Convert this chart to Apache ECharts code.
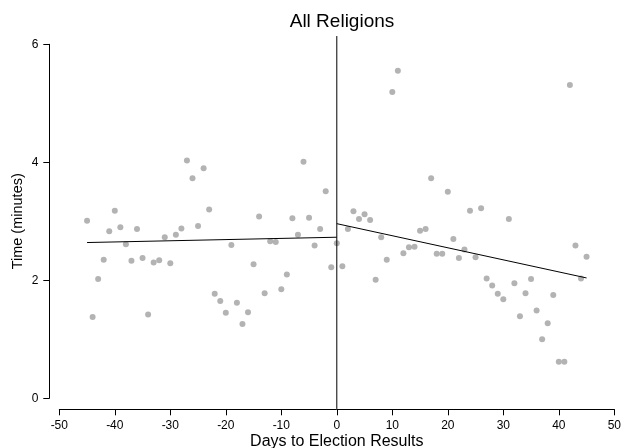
<!DOCTYPE html>
<html>
<head>
<meta charset="utf-8">
<script src="https://cdn.jsdelivr.net/npm/echarts@6/dist/echarts.min.js"></script>
<style>
html, body { margin: 0; padding: 0; background: #fff; }
#main { width: 622px; height: 448px; }
</style>
</head>
<body>
<div id="main"></div>
<script>
// days to election results, one point per day
var days = [-45,-44,-43,-42,-41,-40,-39,-38,-37,-36,-35,-34,-33,-32,-31,-30,-29,-28,-27,-26,-25,-24,-23,-22,-21,-20,-19,-18,-17,-16,-15,-14,-13,-12,-11,-10,-9,-8,-7,-6,-5,-4,-3,-2,-1,
	0,1,2,3,4,5,6,7,8,9,10,11,12,13,14,15,16,17,18,19,20,21,22,23,24,25,26,27,28,29,30,31,32,33,34,35,36,37,38,39,40,41,42,43,44,45];
// time in minutes
var minutes = [3.01,1.38,2.02,2.35,2.83,3.18,2.90,2.61,2.33,2.87,2.38,1.42,2.30,2.34,2.73,2.29,2.77,2.88,4.03,3.73,2.92,3.90,3.20,1.77,1.65,1.45,2.60,1.62,1.26,1.46,2.27,3.08,1.78,2.66,2.65,1.85,2.10,3.05,2.77,4.01,3.06,2.59,2.87,3.51,2.22,
	2.63,2.24,2.87,3.17,3.04,3.12,3.02,2.01,2.73,2.35,5.19,5.55,2.46,2.56,2.57,2.84,2.87,3.73,2.45,2.45,3.50,2.70,2.38,2.52,3.18,2.39,3.22,2.03,1.91,1.77,1.68,3.04,1.95,1.39,1.78,2.02,1.49,1.00,1.27,1.75,0.62,0.62,5.31,2.59,2.03,2.40];
// fitted lines before / after the results
var fitBefore = [[-45, 2.64], [0, 2.73]];
var fitAfter = [[0, 2.96], [45, 2.04]];
// cutoff line at day 0
var cutoff = [[0, 6.14], [0, -0.18]];

var xTicks = { min: -50, max: 50, step: 10 };
var yTicks = { min: 0, max: 6, step: 2 };

var points = [];
for (var i = 0; i < days.length; i++) {
	points.push([days[i], minutes[i]]);
}

var font = 'Liberation Sans, Arial, Helvetica, sans-serif';

var option = {
	animation: false,
	backgroundColor: '#fff',
	title: {
		text: 'All Religions',
		left: 337,
		textAlign: 'center',
		top: 7,
		textStyle: { fontFamily: font, fontSize: 19, fontWeight: 'normal', color: '#000' }
	},
	grid: { left: 59.3, right: 7.7, top: 44.3, bottom: 49.7, outerBoundsMode: 'none', containLabel: false },
	xAxis: {
		type: 'value',
		min: xTicks.min, max: xTicks.max, interval: xTicks.step,
		offset: 11,
		name: 'Days to Election Results',
		nameLocation: 'middle',
		nameGap: 24,
		nameMoveOverlap: false,
		nameTextStyle: { fontFamily: font, fontSize: 16, color: '#000' },
		axisLine: { show: true, onZero: false, lineStyle: { color: '#000', width: 1 } },
		axisTick: { show: true, length: 6, lineStyle: { color: '#000' } },
		axisLabel: { fontFamily: font, fontSize: 12, color: '#000', margin: 10 },
		splitLine: { show: false }
	},
	yAxis: {
		type: 'value',
		min: yTicks.min, max: yTicks.max, interval: yTicks.step,
		offset: 10,
		name: 'Time (minutes)',
		nameLocation: 'middle',
		nameGap: 24,
		nameMoveOverlap: false,
		nameTextStyle: { fontFamily: font, fontSize: 14.5, color: '#000' },
		axisLine: { show: true, onZero: false, lineStyle: { color: '#000', width: 1 } },
		axisTick: { show: true, length: 6, lineStyle: { color: '#000' } },
		axisLabel: { fontFamily: font, fontSize: 12, color: '#000', margin: 11 },
		splitLine: { show: false }
	},
	series: [
		{
			type: 'scatter',
			data: points,
			symbolSize: 6,
			itemStyle: { color: '#a0a0a0' },
			z: 2
		},
		{
			type: 'line',
			data: fitBefore,
			symbol: 'none',
			lineStyle: { color: '#000', width: 1 },
			z: 3
		},
		{
			type: 'line',
			data: fitAfter,
			symbol: 'none',
			lineStyle: { color: '#000', width: 1 },
			z: 3
		},
		{
			type: 'line',
			data: cutoff,
			symbol: 'none',
			clip: false,
			lineStyle: { color: '#000', width: 1 },
			z: 3
		}
	]
};

var myChart = echarts.init(document.getElementById('main'));
myChart.setOption(option);
</script>
</body>
</html>
